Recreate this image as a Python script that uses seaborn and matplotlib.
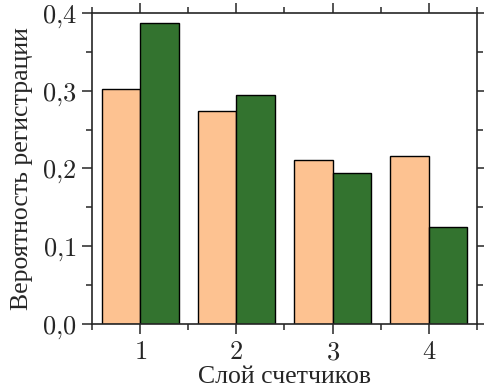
import numpy as np
import pandas as pd
import matplotlib
matplotlib.use('Agg')
import matplotlib.pyplot as plt
from matplotlib.ticker import MultipleLocator, FuncFormatter
import seaborn as sns

sns.set_style('ticks')
plt.rcParams['font.family'] = ['Liberation Serif', 'DejaVu Serif']
plt.rcParams['mathtext.fontset'] = 'cm'

# data
layers = ['1', '2', '3', '4']
series_a = [0.302, 0.274, 0.211, 0.216]   # peach
series_b = [0.387, 0.294, 0.194, 0.125]   # green
series_names = ['a', 'b']
colors = ['#fdc291', '#33732f']

df = pd.DataFrame({
    'layer': layers * 2,
    'value': series_a + series_b,
    'series': [series_names[0]] * 4 + [series_names[1]] * 4,
})

fig = plt.figure(figsize=(4.84, 3.9), dpi=100)
ax = fig.add_axes([0.19, 0.169, 0.7955, 0.798])

sns.barplot(data=df, x='layer', y='value', hue='series', palette=colors,
            edgecolor='black', linewidth=1.0, saturation=1, legend=False, ax=ax)

ax.set_xlim(-0.5, 3.5)
ax.set_ylim(0, 0.4)
ax.yaxis.set_major_locator(MultipleLocator(0.1))
ax.yaxis.set_minor_locator(MultipleLocator(0.05))
ax.xaxis.set_minor_locator(MultipleLocator(1.0, offset=0.5))
ax.yaxis.set_major_formatter(FuncFormatter(lambda v, p: '$%s$' % ('%.1f' % v).replace('.', '{,}')))
ax.set_xticks(range(len(layers)))
ax.set_xticklabels(['$%s$' % l for l in layers])

for s in ax.spines.values():
    s.set_linewidth(1.2)
    s.set_visible(True)
ax.tick_params(which='both', direction='out', top=True, right=True, width=1.1, labelsize=19, pad=4)
ax.tick_params(axis='x', which='major', pad=6)
ax.tick_params(which='major', length=7)
ax.tick_params(which='minor', length=4)

ax.set_xlabel('Слой счетчиков', fontsize=18.5, labelpad=1)
ax.set_ylabel('Вероятность регистрации', fontsize=18.5, labelpad=6)

fig.savefig('out.png', dpi=100)
